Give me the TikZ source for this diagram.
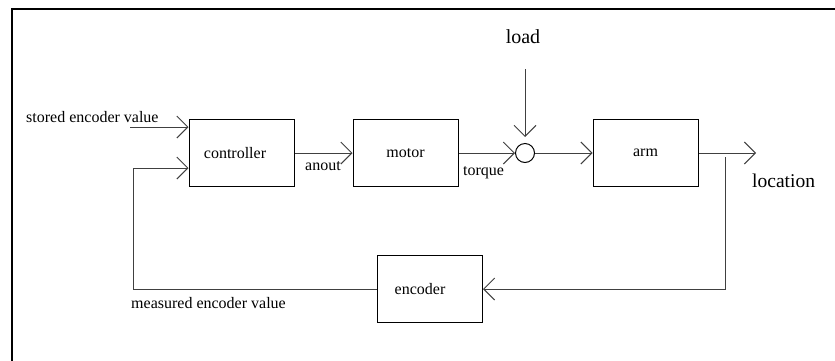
\documentclass[tikz,border=0pt]{standalone}
\usepackage{fontspec}
\setmainfont{Liberation Serif}
\usetikzlibrary{arrows.meta}
\begin{document}
\begin{tikzpicture}[x=1pt,y=-1pt,
  font=\fontsize{16}{19}\selectfont,
  blk/.style={draw=black,line width=1pt,minimum width=105pt,minimum height=67pt,inner sep=0pt},
  txt/.style={inner sep=0pt},
  conn/.style={draw=black!75,line width=1pt},
  >={Straight Barb[length=11pt,width=22pt,line width=1pt]}]
\useasboundingbox (0,0) rectangle (835,360);
\fill[white] (0,0) rectangle (835,360);
% frame
\draw[line width=2pt] (12,361) -- (12,9) -- (836,9);
% blocks
\node[blk,label={[txt,xshift=-6.5pt]center:controller}] (ctrl) at (241.5,153) {};
\node[blk] (motor) at (405.5,153) {motor};
\node[blk] (arm) at (645.5,153) {arm};
\node[blk,label={[txt,xshift=-10pt]center:encoder}] (enc) at (430,289) {};
\node[draw=black,line width=1pt,circle,minimum size=19pt,inner sep=0pt] (sum) at (525,153) {};
% texts
\node[txt,anchor=west] (tstored) at (26,117) {stored encoder value};
\node[txt,anchor=west] (tanout) at (305,166) {anout};
\node[txt,anchor=west] (ttorque) at (463,173) {torque};
\node[txt,font=\fontsize{20}{24}\selectfont] (tload) at (523,37) {load};
\node[txt,anchor=west,font=\fontsize{19.5}{23}\selectfont] (tloc) at (752,181) {location};
\node[txt,anchor=west] (tmeas) at (131,303) {measured encoder value};
% coordinates
\coordinate (sin) at (130,127);
\coordinate (fbc) at (133,168);
\coordinate (ldtop) at (525,69);
\coordinate (out) at (756,153);
\coordinate (tap) at (725,157);
% connectors
\draw[conn,->] (sin) -- (sin -| ctrl.west);
\draw[conn,->] (enc.west) -| (fbc) -- (fbc -| ctrl.west);
\draw[conn,->] (ctrl.east) -- (motor.west);
\draw[conn,->] (motor.east) -- (sum.west);
\draw[conn,->,shorten >=6pt] (ldtop) -- (sum.north);
\draw[conn,->] (sum.east) -- (arm.west);
\draw[conn,->] (arm.east) -- (out);
\draw[conn,->] (tap) |- (enc.east);
\end{tikzpicture}
\end{document}
